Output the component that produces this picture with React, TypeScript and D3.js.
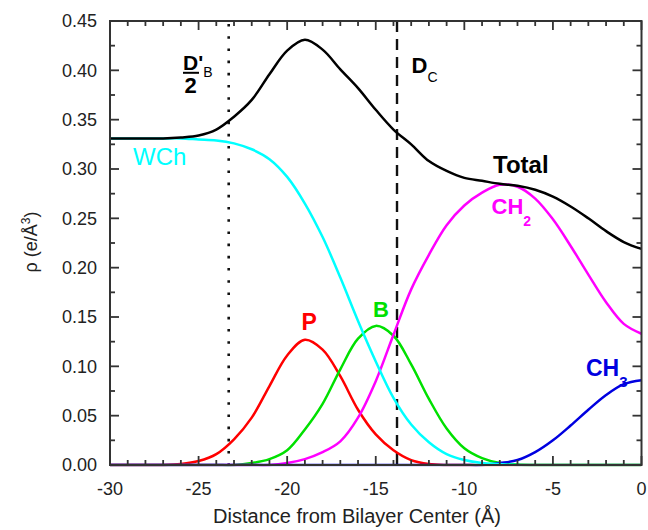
import React from "react";
import * as d3 from "d3";

// Distance from bilayer center (Å)
const distance = [-30, -29, -28, -27, -26, -25, -24, -23, -22, -21, -20, -19, -18, -17, -16, -15, -14, -13, -12, -11, -10, -9, -8, -7, -6, -5, -4, -3, -2, -1, 0];

const totalRho = [0.331, 0.331, 0.331, 0.331, 0.332, 0.334, 0.340, 0.353, 0.370, 0.396, 0.420, 0.431, 0.421, 0.401, 0.382, 0.360, 0.340, 0.325, 0.308, 0.298, 0.291, 0.288, 0.285, 0.283, 0.279, 0.272, 0.262, 0.250, 0.237, 0.226, 0.219];
const wchRho = [0.331, 0.331, 0.331, 0.331, 0.331, 0.330, 0.329, 0.326, 0.320, 0.310, 0.292, 0.265, 0.231, 0.190, 0.146, 0.105, 0.068, 0.041, 0.023, 0.011, 0.005, 0.002, 0.001, 0, 0, 0, 0, 0, 0, 0, 0];
const pRho = [0, 0, 0, 0, 0.001, 0.004, 0.011, 0.026, 0.048, 0.080, 0.111, 0.127, 0.117, 0.090, 0.056, 0.031, 0.015, 0.005, 0.001, 0, 0, 0, 0, 0, 0, 0, 0, 0, 0, 0, 0];
const bRho = [0, 0, 0, 0, 0, 0, 0, 0, 0.002, 0.006, 0.015, 0.036, 0.062, 0.097, 0.128, 0.141, 0.131, 0.102, 0.067, 0.037, 0.017, 0.007, 0.002, 0.0005, 0, 0, 0, 0, 0, 0, 0];
const ch2Rho = [0, 0, 0, 0, 0, 0, 0, 0, 0, 0, 0.002, 0.006, 0.013, 0.024, 0.048, 0.085, 0.132, 0.178, 0.213, 0.243, 0.263, 0.276, 0.284, 0.282, 0.270, 0.249, 0.222, 0.193, 0.165, 0.143, 0.133];
const ch3Rho = [0, 0, 0, 0, 0, 0, 0, 0, 0, 0, 0, 0, 0, 0, 0, 0, 0, 0, 0, 0, 0, 0, 0.002, 0.005, 0.013, 0.025, 0.040, 0.056, 0.071, 0.082, 0.086];

const xTicks = [-30, -25, -20, -15, -10, -5, 0];
const xTickLabels = ["-30", "-25", "-20", "-15", "-10", "-5", "0"];
const yTicks = [0, 0.05, 0.1, 0.15, 0.2, 0.25, 0.3, 0.35, 0.4, 0.45];
const yTickLabels = ["0.00", "0.05", "0.10", "0.15", "0.20", "0.25", "0.30", "0.35", "0.40", "0.45"];
const halfBilayer = -23.3; // D'B / 2
const dcPos = -13.8; // Dc

const FONT = "'Liberation Sans', Arial, Helvetica, sans-serif";

export default function App() {
  const left = 110, right = 641.5, top = 21, bottom = 465;
  const x = d3.scaleLinear().domain([-30, 0]).range([left, right]);
  const y = d3.scaleLinear().domain([0, 0.45]).range([bottom, top]);

  const mk = (vals: number[]) =>
    d3
      .line<number>()
      .x((_, i) => x(distance[i]))
      .y((v) => Math.min(y(v), bottom))
      .curve(d3.curveCatmullRom.alpha(0.5))(vals) as string;

  const series = [
    { vals: pRho, color: "#ff0000" },
    { vals: bRho, color: "#00e000" },
    { vals: ch2Rho, color: "#ff00ff" },
    { vals: ch3Rho, color: "#0000e0" },
    { vals: wchRho, color: "#00ffff" },
    { vals: totalRho, color: "#000000" },
  ];

  const xMinor = d3.range(-30, 0.001, 1);
  const yMinor = d3.range(0, 0.4501, 0.025);
  const axisColor = "#333";

  return (
    <svg width={648} height={530} style={{ position: "absolute", left: 0, top: 0, background: "#fff" }} fontFamily={FONT}>
      <rect x={0} y={0} width={648} height={530} fill="#fff" />
      <defs>
        <clipPath id="plotClip">
          <rect x={left} y={top} width={right - left} height={bottom - top + 1.5} />
        </clipPath>
      </defs>
      {/* reference lines */}
      <line x1={x(halfBilayer)} x2={x(halfBilayer)} y1={top + 3} y2={bottom} stroke="#111" strokeWidth={2.6} strokeDasharray="2.6 9.6" />
      <line x1={x(dcPos)} x2={x(dcPos)} y1={top} y2={bottom} stroke="#111" strokeWidth={2.4} strokeDasharray="11 7" />

      {/* curves */}
      <g clipPath="url(#plotClip)">
        {series.map((s, i) => (
          <path key={i} d={mk(s.vals)} fill="none" stroke={s.color} strokeWidth={2.5} />
        ))}
      </g>

      {/* frame */}
      <rect x={left} y={top} width={right - left} height={bottom - top} fill="none" stroke={axisColor} strokeWidth={2} />
      {/* x ticks */}
      {xMinor.map((v) => {
        const major = Math.abs(v % 5) < 1e-6;
        const len = major ? 9 : 5;
        return (
          <g key={"xt" + v}>
            <line x1={x(v)} x2={x(v)} y1={bottom} y2={bottom - len} stroke={axisColor} strokeWidth={1.8} />
            <line x1={x(v)} x2={x(v)} y1={top} y2={top + len} stroke={axisColor} strokeWidth={1.8} />
          </g>
        );
      })}
      {/* y ticks */}
      {yMinor.map((v, i) => {
        const major = i % 2 === 0;
        const len = major ? 9 : 5;
        return (
          <g key={"yt" + i}>
            <line x1={left} x2={left + len} y1={y(v)} y2={y(v)} stroke={axisColor} strokeWidth={1.8} />
            <line x1={right} x2={right - len} y1={y(v)} y2={y(v)} stroke={axisColor} strokeWidth={1.8} />
          </g>
        );
      })}
      {/* tick labels */}
      {xTicks.map((v, i) => (
        <text key={"xl" + v} x={x(v)} y={495} textAnchor="middle" fontSize={18} fill="#222">
          {xTickLabels[i]}
        </text>
      ))}
      {yTicks.map((v, i) => (
        <text key={"yl" + v} x={97} y={y(v) + 6.4} textAnchor="end" fontSize={18} fill="#222">
          {yTickLabels[i]}
        </text>
      ))}

      {/* axis titles */}
      <text x={357} y={523} textAnchor="middle" fontSize={20} fill="#222">
        Distance from Bilayer Center (Å)
      </text>
      <text transform="translate(37,242) rotate(-90)" textAnchor="middle" fontSize={18} fill="#222">
        ρ (e/Å<tspan dy={-7} fontSize={12}>3</tspan>
        <tspan dy={7}>)</tspan>
      </text>

      {/* series labels */}
      <text x={133} y={165} fontSize={24} fill="#00ffff">WCh</text>
      <text x={493} y={173} fontSize={24} fontWeight="bold" fill="#000">Total</text>
      <text x={491.5} y={214} fontSize={22} fontWeight="bold" fill="#ff00ff">
        CH<tspan dy={12} fontSize={14}>2</tspan>
      </text>
      <text x={301.5} y={330} fontSize={23} fontWeight="bold" fill="#ff0000">P</text>
      <text x={373} y={317} fontSize={22} fontWeight="bold" fill="#00e000">B</text>
      <text x={586} y={376} fontSize={23} fontWeight="bold" fill="#0000e0">
        CH<tspan dy={11} fontSize={15}>3</tspan>
      </text>

      {/* D'B / 2 */}
      <text x={183} y={70} fontSize={21} fontWeight="bold" fill="#000">
        D'<tspan dy={6.7} fontSize={14} fontWeight="normal">B</tspan>
      </text>
      <line x1={183} x2={199} y1={72.8} y2={72.8} stroke="#000" strokeWidth={2} />
      <text x={184.5} y={93.3} fontSize={22} fontWeight="bold" fill="#000">2</text>

      {/* Dc */}
      <text x={411.5} y={72.7} fontSize={22} fontWeight="bold" fill="#000">
        D<tspan dy={9} fontSize={14} fontWeight="normal">C</tspan>
      </text>
    </svg>
  );
}
